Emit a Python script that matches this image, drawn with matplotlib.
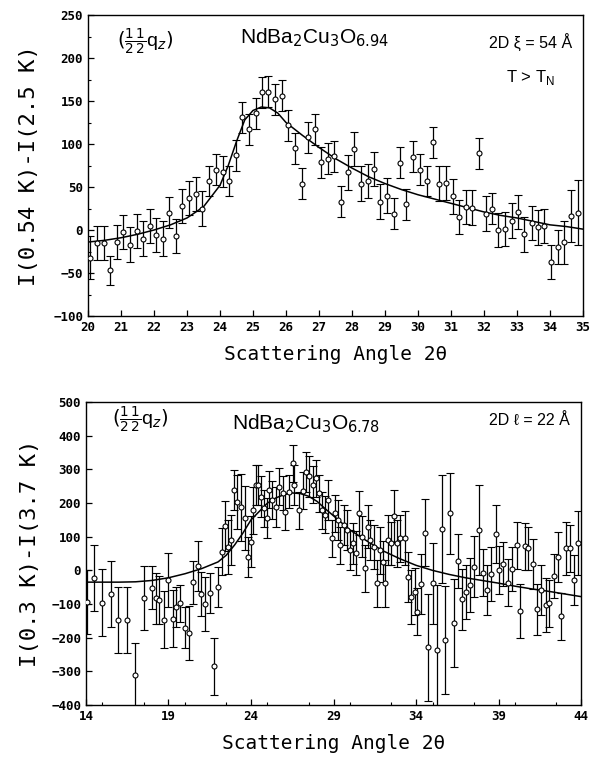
"""Magnetic diffuse scattering difference scans for NdBa2Cu3O6+x."""

import matplotlib

matplotlib.use("Agg")
from matplotlib import pyplot as plt
from matplotlib.ticker import MultipleLocator

import numpy as np

# upper panel: NdBa2Cu3O6.94, I(0.54 K) - I(2.5 K)
top_angle = [20.06, 20.26, 20.48, 20.67, 20.87, 21.07, 21.27, 21.48, 21.66, 21.88,
             22.06, 22.26, 22.46, 22.66, 22.86, 23.07, 23.27, 23.46, 23.68, 23.88,
             24.08, 24.28, 24.48, 24.66, 24.88, 25.08, 25.28, 25.46, 25.67, 25.87,
             26.07, 26.27, 26.48, 26.68, 26.88, 27.06, 27.26, 27.46, 27.67, 27.87,
             28.07, 28.27, 28.48, 28.68, 28.86, 29.06, 29.26, 29.45, 29.65, 29.86,
             30.06, 30.26, 30.45, 30.65, 30.85, 31.05, 31.24, 31.44, 31.64, 31.85,
             32.05, 32.25, 32.43, 32.63, 32.84, 33.04, 33.22, 33.44, 33.65, 33.83,
             34.03, 34.23, 34.43, 34.64, 34.84]
top_counts = [-32, -15, -15, -47, -14, -2, -17, -1, -10, 5,
              -6, -10, 20, -7, 28, 37, 42, 25, 57, 70,
              68, 57, 87, 131, 117, 136, 160, 161, 152, 156,
              122, 95, 54, 108, 117, 79, 83, 86, 33, 67,
              94, 54, 57, 71, 33, 40, 19, 78, 30, 85,
              70, 57, 102, 54, 55, 39, 15, 27, 26, 89,
              19, 25, 0, 1, 11, 21, -5, 8, 3, 5,
              -37, -20, -14, 16, 20]
top_err = [25, 20, 20, 17, 20, 20, 20, 20, 20, 20,
           20, 20, 18, 20, 20, 20, 20, 20, 18, 18,
           18, 18, 18, 18, 18, 18, 18, 18, 18, 18,
           18, 18, 18, 18, 18, 18, 18, 18, 18, 20,
           20, 20, 20, 20, 20, 20, 18, 18, 18, 18,
           18, 18, 18, 20, 20, 20, 20, 20, 20, 18,
           20, 18, 20, 20, 20, 20, 20, 20, 20, 20,
           20, 20, 25, 30, 38]
top_fit_angle = [20.0, 20.5, 21.0, 21.5, 22.0, 22.5, 23.0, 23.5, 24.0, 24.25,
                 24.5, 24.75, 25.0, 25.25, 25.5, 25.75, 26.0, 26.5, 27.0, 27.5,
                 28.0, 28.5, 29.0, 29.5, 30.0, 30.5, 31.0, 31.5, 32.0, 32.5,
                 33.0, 33.5, 34.0, 34.5, 35.0]
top_fit = [-14, -12, -9, -5, 0, 6, 14, 27, 52, 75,
           103, 128, 139, 143, 142, 136, 125, 110, 96, 83,
           72, 62, 54, 47, 41, 36, 31, 26, 21, 17,
           14, 10, 6, 4, 1]

# lower panel: NdBa2Cu3O6.78, I(0.3 K) - I(3.7 K)
bot_angle = [14.04, 14.5, 14.99, 15.52, 15.97, 16.5, 16.98, 17.49, 18.0, 18.24,
             18.44, 18.75, 19.0, 19.25, 19.46, 19.72, 19.98, 20.23, 20.47, 20.77,
             21.0, 21.24, 21.5, 21.75, 22.0, 22.22, 22.42, 22.6, 22.8, 22.95,
             23.17, 23.4, 23.62, 23.82, 24.02, 24.15, 24.29, 24.45, 24.59, 24.79,
             24.96, 25.1, 25.3, 25.5, 25.7, 25.91, 26.07, 26.28, 26.52, 26.62,
             26.92, 27.13, 27.33, 27.53, 27.74, 27.94, 28.1, 28.3, 28.49, 28.69,
             28.89, 29.09, 29.3, 29.42, 29.62, 29.82, 29.99, 30.17, 30.37, 30.57,
             30.72, 30.92, 31.08, 31.24, 31.45, 31.61, 31.79, 32.0, 32.14, 32.3,
             32.46, 32.64, 32.85, 33.01, 33.31, 33.52, 33.72, 33.92, 34.07, 34.29,
             34.53, 34.74, 35.04, 35.28, 35.59, 35.75, 36.05, 36.29, 36.56, 36.76,
             37.0, 37.27, 37.53, 37.84, 38.08, 38.28, 38.55, 38.83, 39.03, 39.3,
             39.56, 39.8, 40.1, 40.31, 40.6, 40.8, 41.07, 41.33, 41.59, 41.88,
             42.08, 42.35, 42.6, 42.81, 43.1, 43.35, 43.56, 43.82]
bot_counts = [-93, -24, -96, -69, -146, -146, -312, -83, -51, -83,
              -88, -146, -29, -143, -108, -98, -170, -186, -36, 13,
              -71, -100, -67, -285, -49, 55, 132, 70, 90, 239,
              204, 187, 155, 40, 85, 179, 254, 254, 219, 184,
              155, 239, 209, 189, 249, 229, 174, 234, 318, 254,
              179, 237, 293, 279, 254, 274, 229, 179, 165, 209,
              95, 170, 150, 75, 135, 120, 60, 80, 51, 170,
              100, 6, 130, 90, 70, -39, 60, 26, -39, 90,
              80, 160, 80, 95, 95, -19, -79, -64, -123, -41,
              112, -229, -39, -237, 122, -207, 170, -156, 29, -86,
              -64, -44, 11, 120, -7, -59, -11, 108, 1, 20,
              -37, 5, 75, -120, 72, 65, 19, -116, -59, -103,
              -98, -17, 39, -136, 65, 65, -29, 82]
bot_err = [95, 98, 100, 98, 98, 98, 95, 95, 65, 75,
           70, 85, 80, 85, 60, 55, 60, 80, 65, 75,
           65, 80, 60, 85, 60, 70, 75, 80, 75, 60,
           80, 100, 95, 60, 75, 70, 60, 60, 60, 55,
           60, 55, 55, 60, 55, 50, 55, 50, 55, 60,
           55, 55, 60, 60, 55, 55, 55, 55, 55, 60,
           55, 55, 60, 55, 60, 60, 60, 60, 65, 65,
           60, 70, 65, 60, 65, 70, 70, 60, 70, 75,
           65, 80, 70, 70, 80, 75, 80, 70, 70, 90,
           100, 160, 120, 195, 160, 160, 120, 130, 80, 90,
           80, 80, 90, 135, 70, 75, 80, 86, 70, 65,
           70, 65, 70, 80, 70, 65, 75, 75, 75, 80,
           70, 65, 75, 70, 80, 70, 75, 95]
bot_fit_angle = [14, 15, 16, 17, 18, 19, 20, 21, 22, 22.5,
                 23, 23.5, 24, 24.5, 25, 25.5, 26, 26.5, 27, 27.5,
                 28, 28.5, 29, 29.5, 30, 31, 32, 33, 34, 35,
                 36, 37, 38, 39, 40, 41, 42, 43, 44]
bot_fit = [-35, -35, -35, -34, -30, -22, -10, 5, 25, 45,
           75, 110, 150, 175, 200, 215, 225, 230, 228, 220,
           205, 183, 162, 141, 120, 88, 58, 35, 15, 0,
           -12, -22, -30, -38, -47, -55, -62, -70, -78]

MONO = "DejaVu Sans Mono"
SANS = "Liberation Sans"


def draw_panel(ax, angle, counts, err, fit_angle, fit):
    ax.errorbar(angle, counts, yerr=err, fmt="o", ms=3.6, mfc="white", mec="black",
                mew=0.8, ecolor="black", elinewidth=0.9, capsize=3, capthick=0.9,
                zorder=3)
    ax.plot(fit_angle, fit, color="black", lw=1.1, zorder=2)
    ax.tick_params(which="both", direction="in", top=False, right=False)
    ax.tick_params(which="major", length=4, width=0.9)
    ax.tick_params(which="minor", length=2, width=0.8)
    for lab in ax.get_xticklabels() + ax.get_yticklabels():
        lab.set_fontfamily(MONO)
        lab.set_fontweight("bold")
        lab.set_fontsize(9)
    for sp in ax.spines.values():
        sp.set_linewidth(1.0)


fig = plt.figure(figsize=(5.91, 7.58), dpi=100)

# top panel
ax1 = fig.add_axes([0.1489, 0.5831, 0.8376, 0.3971])
ax1.set_xlim(20, 35)
ax1.set_ylim(-100, 250)
ax1.xaxis.set_major_locator(MultipleLocator(1))
ax1.yaxis.set_major_locator(MultipleLocator(50))
ax1.yaxis.set_minor_locator(MultipleLocator(25))
draw_panel(ax1, top_angle, top_counts, top_err, top_fit_angle, top_fit)
ax1.set_xlabel("Scattering Angle 2θ", family=MONO, fontsize=14, labelpad=8)
ax1.set_ylabel("I(0.54 K)-I(2.5 K)", family=MONO, fontsize=16, labelpad=10)
ax1.text(0.115, 0.91, r"$(\frac{1}{2}\frac{1}{2}$q$_z)$", transform=ax1.transAxes,
         ha="center", va="center", family=SANS, fontsize=14)
ax1.text(0.307, 0.924, r"NdBa$_2$Cu$_3$O$_{6.94}$", transform=ax1.transAxes,
         ha="left", va="center", family=SANS, fontsize=15)
ax1.text(0.978, 0.907, "2D ξ = 54 Å", transform=ax1.transAxes,
         ha="right", va="center", family=SANS, fontsize=11.5)
ax1.text(0.943, 0.794, r"T > T$_\mathregular{N}$", transform=ax1.transAxes,
         ha="right", va="center", family=SANS, fontsize=12)

# bottom panel
ax2 = fig.add_axes([0.1455, 0.0699, 0.8376, 0.3997])
ax2.set_xlim(14, 44)
ax2.set_ylim(-400, 500)
ax2.set_xticks(np.arange(14, 45, 5))
ax2.xaxis.set_minor_locator(MultipleLocator(2.5))
ax2.yaxis.set_major_locator(MultipleLocator(100))
draw_panel(ax2, bot_angle, bot_counts, bot_err, bot_fit_angle, bot_fit)
ax2.set_xlabel("Scattering Angle 2θ", family=MONO, fontsize=14, labelpad=8)
ax2.set_ylabel("I(0.3 K)-I(3.7 K)", family=MONO, fontsize=16, labelpad=8)
ax2.text(0.109, 0.94, r"$(\frac{1}{2}\frac{1}{2}$q$_z)$", transform=ax2.transAxes,
         ha="center", va="center", family=SANS, fontsize=14)
ax2.text(0.295, 0.93, r"NdBa$_2$Cu$_3$O$_{6.78}$", transform=ax2.transAxes,
         ha="left", va="center", family=SANS, fontsize=15)
ax2.text(0.978, 0.94, "2D ℓ = 22 Å", transform=ax2.transAxes,
         ha="right", va="center", family=SANS, fontsize=11.5)

fig.savefig("out.png", dpi=100)
